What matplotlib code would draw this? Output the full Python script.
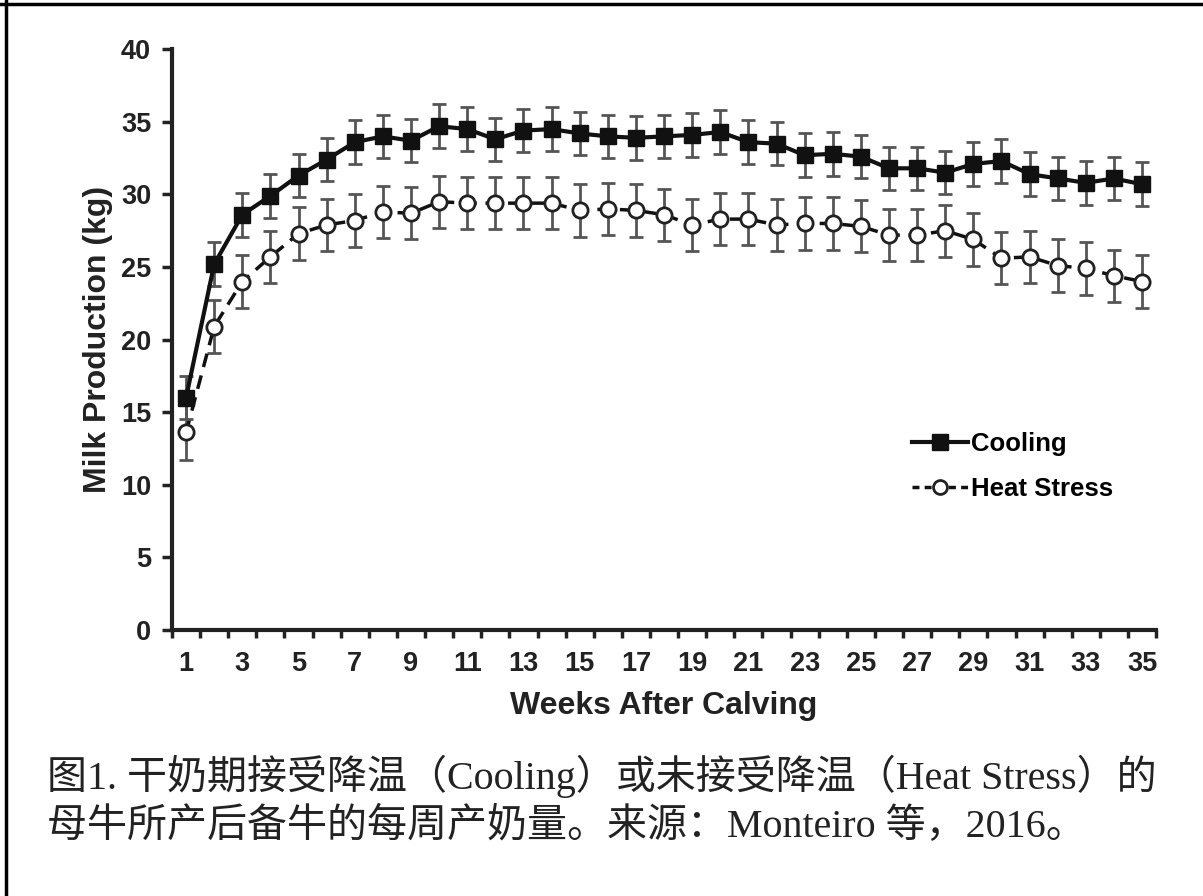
import matplotlib.pyplot as plt
from matplotlib.lines import Line2D

# Data
weeks = list(range(1, 36))
cooling = [16.0, 25.2, 28.6, 29.9, 31.3, 32.4, 33.6, 34.0, 33.7, 34.7, 34.5, 33.8,
           34.4, 34.5, 34.2, 34.0, 33.9, 34.0, 34.1, 34.3, 33.6, 33.5, 32.7, 32.8,
           32.6, 31.8, 31.8, 31.5, 32.1, 32.3, 31.4, 31.1, 30.8, 31.1, 30.7]
cooling_err = [1.5] * 35
heat_stress = [13.6, 20.9, 24.0, 25.7, 27.3, 27.9, 28.2, 28.8, 28.7, 29.5, 29.4, 29.4,
               29.4, 29.4, 28.9, 29.0, 28.9, 28.6, 27.9, 28.3, 28.3, 27.9, 28.0, 28.0,
               27.8, 27.2, 27.2, 27.5, 26.9, 25.6, 25.7, 25.1, 24.9, 24.4, 24.0]
heat_err = [1.9] + [1.8] * 34
xtick_labels = [str(w) for w in range(1, 36, 2)]
caption_1 = "图1. 干奶期接受降温（Cooling）或未接受降温（Heat Stress）的"
caption_2 = "母牛所产后备牛的每周产奶量。来源：Monteiro 等，2016。"

plt.rcParams['font.family'] = ['Liberation Sans', 'DejaVu Sans']

fig = plt.figure(figsize=(12.03, 8.96), dpi=100)
ax = fig.add_axes([0.143, 0.297, 0.818, 0.648])

ecol = '#555555'
ax.errorbar(weeks, heat_stress, yerr=heat_err, color='#111111', ls=(0, (4, 2.5)), lw=2.5,
            marker='o', ms=11, mfc='white', mec='#222222', mew=2,
            ecolor=ecol, elinewidth=2, capsize=5, capthick=2, zorder=2)
ax.errorbar(weeks, cooling, yerr=cooling_err, color='#111111', lw=3,
            marker='s', ms=11, mfc='#111111', mec='#111111',
            ecolor=ecol, elinewidth=2, capsize=5, capthick=2, zorder=3)

ax.set_xlim(0.5, 35.5)
ax.set_ylim(0, 40)
ax.set_yticks(range(0, 41, 5))
ax.set_xticks(range(1, 36, 2))
ax.set_xticklabels(xtick_labels)
ax.set_xticks([w - 0.5 for w in range(1, 37)], minor=True)
ax.tick_params(axis='x', which='major', length=0, pad=15)
ax.tick_params(axis='x', which='minor', length=6, width=2.5, color='#222222')
ax.tick_params(axis='y', length=7, width=2.5, color='#222222', pad=8)
for lab in ax.get_xticklabels() + ax.get_yticklabels():
    lab.set_fontsize(19.5)
    lab.set_fontweight('bold')
    lab.set_color('#222222')

for side in ['top', 'right']:
    ax.spines[side].set_visible(False)
for side in ['left', 'bottom']:
    ax.spines[side].set_linewidth(3)
    ax.spines[side].set_color('#222222')

ax.set_xlabel("Weeks After Calving", fontsize=23, fontweight='bold', color='#222222', labelpad=10)
ax.set_ylabel("Milk Production (kg)", fontsize=23, fontweight='bold', color='#222222', labelpad=6)

handles = [
    Line2D([], [], color='#111111', lw=3, marker='s', ms=11, mfc='#111111', mec='#111111'),
    Line2D([], [], color='#111111', lw=2.5, ls=(0, (2, 1.5)), marker='o', ms=10,
           mfc='white', mec='#222222', mew=2),
]
ax.legend(handles, ["Cooling", "Heat Stress"], loc='upper left', bbox_to_anchor=(0.728, 0.38),
          frameon=False, handlelength=2.2, handletextpad=0.1, labelspacing=0.8,
          prop={'family': 'Liberation Sans', 'weight': 'bold', 'size': 18.5})

cap_font = ['Liberation Serif', 'Noto Sans CJK SC']
fig.text(0.039, 0.1340, caption_1, fontsize=28.8, color='#222222',
         family=cap_font, va='center', ha='left')
fig.text(0.039, 0.0770, caption_2, fontsize=28.8, color='#222222',
         family=cap_font, va='center', ha='left')

# border lines (top and left)
fig.add_artist(Line2D([0, 1], [0.9950, 0.9950], transform=fig.transFigure, color='black', lw=2.5))
fig.add_artist(Line2D([0.005, 0.005], [0, 1], transform=fig.transFigure, color='black', lw=2.5))

plt.savefig("out.png", dpi=100)
